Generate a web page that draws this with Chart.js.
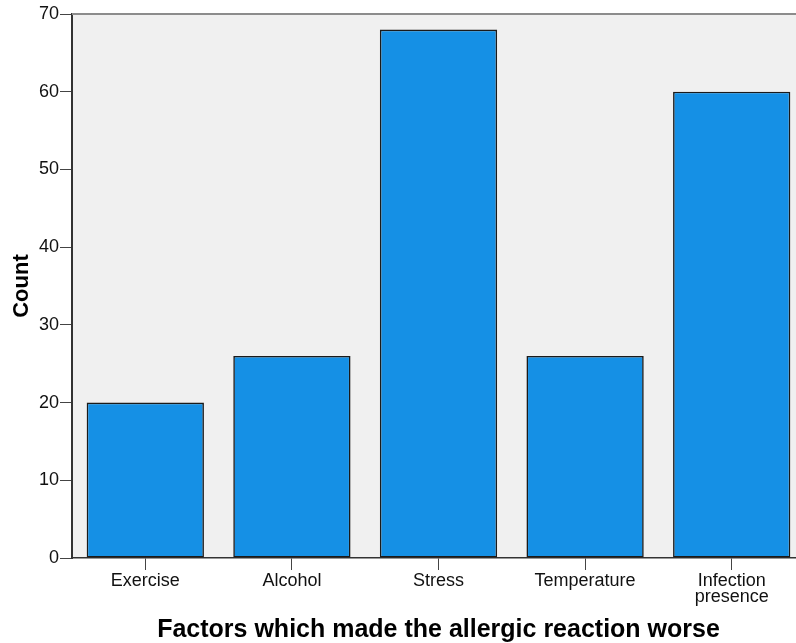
<!DOCTYPE html>
<html>
<head>
<meta charset="utf-8">
<script src="https://cdn.jsdelivr.net/npm/chart.js@4.4.1/dist/chart.umd.min.js"></script>
<style>
  html, body { margin: 0; padding: 0; overflow: hidden; background: #ffffff; }
  #wrap { width: 805px; height: 643px; position: relative; }
</style>
</head>
<body>
<div id="wrap"><canvas id="c"></canvas></div>
<script>
const categories = ["Exercise", "Alcohol", "Stress", "Temperature", ["Infection", "presence"]];
const counts = [20, 26, 68, 26, 60];
const yTicks = [0, 10, 20, 30, 40, 50, 60, 70];
const xTitle = "Factors which made the allergic reaction worse";
const yTitle = "Count";

const FONT = "'Liberation Sans', Arial, Helvetica, sans-serif";

const plotBg = {
  id: 'plotBg',
  beforeDraw(chart) {
    const {ctx, chartArea: a} = chart;
    ctx.save();
    ctx.fillStyle = '#f0f0f0';
    ctx.fillRect(a.left, a.top, a.right - a.left, a.bottom - a.top);
    ctx.restore();
  },
  afterDatasetsDraw(chart) {
    const {ctx, chartArea: a} = chart;
    ctx.save();
    ctx.strokeStyle = '#8c8c8c';
    ctx.lineWidth = 2;
    ctx.beginPath();
    ctx.moveTo(a.left, a.top);
    ctx.lineTo(a.right, a.top);
    ctx.stroke();
    ctx.restore();
  }
};

new Chart(document.getElementById('c'), {
  type: 'bar',
  data: {
    labels: categories,
    datasets: [{
      data: counts,
      backgroundColor: '#1590e5',
      borderColor: '#1a1a1a',
      borderWidth: 1.6,
      borderSkipped: false,
      barPercentage: 0.8,
      categoryPercentage: 1.0
    }]
  },
  options: {
    responsive: true,
    maintainAspectRatio: false,
    animation: false,
    devicePixelRatio: 1,
    layout: { padding: { left: 0, top: 14, right: 0, bottom: 0 } },
    plugins: { legend: { display: false }, tooltip: { enabled: false } },
    scales: {
      x: {
        offset: true,
        grid: { display: true, drawOnChartArea: false, drawTicks: true, tickLength: 12, color: '#444444', offset: false },
        border: { display: true, color: '#333333', width: 1.5 },
        ticks: { color: '#111111', font: { family: FONT, size: 18, lineHeight: 0.9 }, padding: 3, maxRotation: 0, autoSkip: false },
        title: { display: true, text: xTitle, color: '#000000', font: { family: FONT, size: 25, weight: 'bold', lineHeight: 1.0 }, padding: { top: 0, bottom: 0 } },
        afterFit(scale) { scale.height = 85; }
      },
      y: {
        min: 0, max: 70,
        afterBuildTicks(scale) { scale.ticks = yTicks.map(v => ({ value: v })); },
        grid: { display: true, drawOnChartArea: false, drawTicks: true, tickLength: 12, color: '#444444' },
        border: { display: true, color: '#333333', width: 2 },
        ticks: { color: '#111111', font: { family: FONT, size: 18 }, padding: 1 },
        title: { display: true, text: yTitle, color: '#000000', font: { family: FONT, size: 22, weight: 'bold' }, padding: { top: 9, bottom: 0 } },
        afterFit(scale) { scale.width = 72; }
      }
    }
  },
  plugins: [plotBg]
});
</script>
</body>
</html>
